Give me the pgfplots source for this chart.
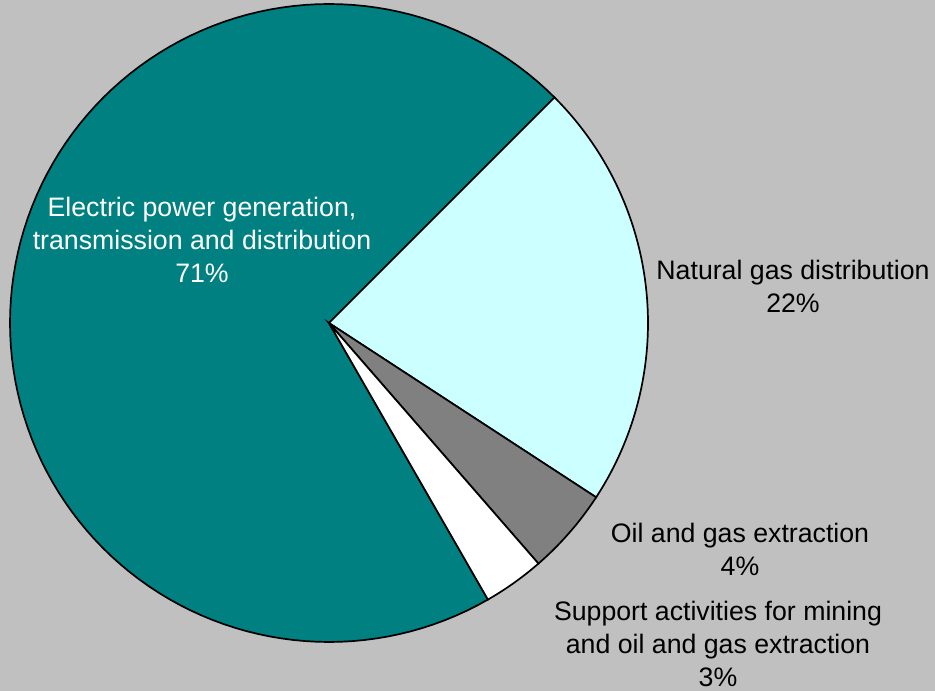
\documentclass[border=0pt]{standalone}
\usepackage{pgfplots}
\pgfplotsset{compat=1.18}
\usepgfplotslibrary{polar}
\usepackage{fontspec}
\setmainfont{Liberation Sans}
\definecolor{bgray}{HTML}{C0C0C0}
\definecolor{elec}{HTML}{008080}
\definecolor{natgas}{HTML}{CCFFFF}
\definecolor{oilgas}{HTML}{808080}
\definecolor{supp}{HTML}{FFFFFF}

% shares in percent
\def\shElec{70.8}
\def\shGas{21.7}
\def\shOil{4.4}
\def\shSupp{3.1}

\begin{document}
\begin{tikzpicture}
\fill[bgray] (0pt,0pt) rectangle (935pt,691pt);
\useasboundingbox (0pt,0pt) rectangle (935pt,691pt);
\pgfmathsetmacro\aA{45}
\pgfmathsetmacro\aB{\aA-3.6*\shGas}
\pgfmathsetmacro\aC{\aB-3.6*\shOil}
\pgfmathsetmacro\aD{\aC-3.6*\shSupp}
\pgfmathsetmacro\aE{\aD-3.6*\shElec}
\begin{polaraxis}[
    at={(329pt,368pt)}, anchor=center,
    hide axis, scale only axis,
    width=638pt, height=638pt,
    ymin=0, ymax=1,
    clip=false, no markers,
]
\addplot[fill=elec, draw=black, line width=1.7pt, domain=\aE:\aD, samples=120] {1} -- (axis cs:0,0) -- cycle;
\addplot[fill=natgas, draw=black, line width=1.7pt, domain=\aB:\aA, samples=60] {1} -- (axis cs:0,0) -- cycle;
\addplot[fill=oilgas, draw=black, line width=1.7pt, domain=\aC:\aB, samples=20] {1} -- (axis cs:0,0) -- cycle;
\addplot[fill=supp, draw=black, line width=1.7pt, domain=\aD:\aC, samples=20] {1} -- (axis cs:0,0) -- cycle;
\end{polaraxis}

\tikzset{lbl/.style={align=center, inner sep=0pt, font=\fontsize{26.7}{33}\selectfont}}
\node[lbl, text=white] at (202pt,451pt) {Electric power generation,\\transmission and distribution\\71\%};
\node[lbl] at (793pt,405pt) {Natural gas distribution\\22\%};
\node[lbl] at (740pt,141.5pt) {Oil and gas extraction\\4\%};
\node[lbl] at (718pt,47pt) {Support activities for mining\\and oil and gas extraction\\3\%};
\end{tikzpicture}
\end{document}
